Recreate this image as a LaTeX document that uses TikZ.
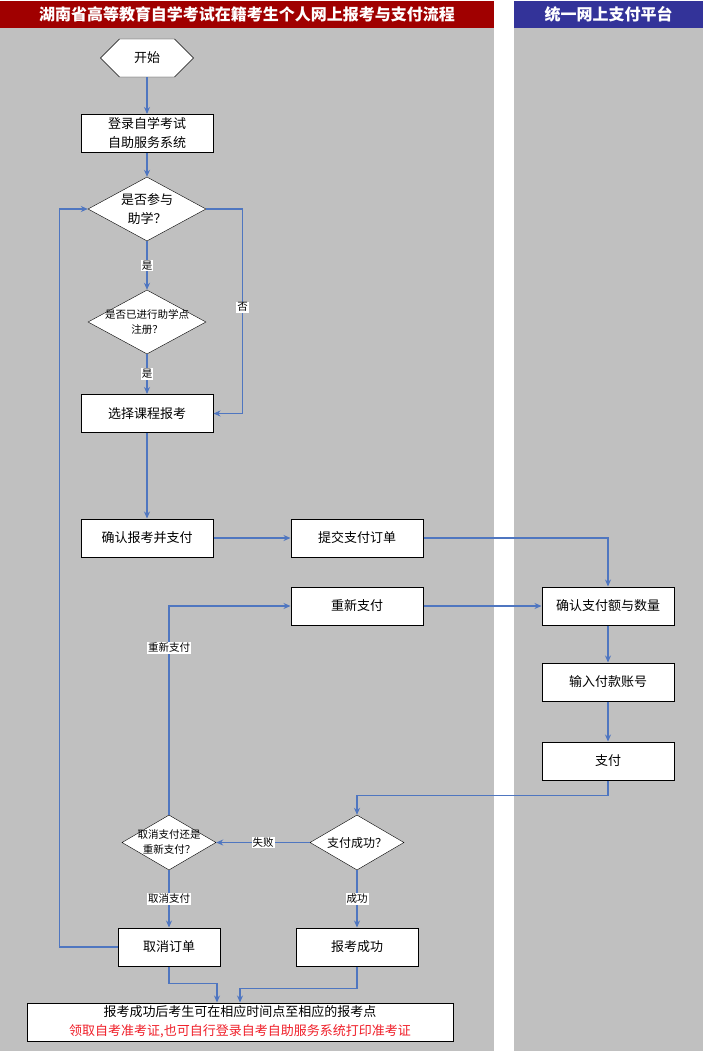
\documentclass[tikz,border=0pt]{standalone}
\usepackage{fontspec}
\setmainfont{Noto Sans CJK SC}
\usetikzlibrary{shapes.geometric,shapes.misc,arrows.meta}
\definecolor{laneGray}{HTML}{C0C0C0}
\definecolor{headRed}{HTML}{A00000}
\definecolor{headBlue}{HTML}{333399}
\definecolor{flowBlue}{HTML}{4F76C0}
\definecolor{noteRed}{HTML}{F0202A}

\begin{document}
\begin{tikzpicture}[x=1pt, y=-1pt,
    every node/.style={font=\fontsize{13}{19}\selectfont},
    process/.style={draw, line width=1pt, fill=white, minimum width=132pt,
      minimum height=38pt, inner sep=0pt, align=center},
    startstop/.style={chamfered rectangle, chamfered rectangle xsep=16pt,
      chamfered rectangle ysep=18pt, draw, fill=white, minimum width=93pt,
      minimum height=36pt, inner sep=0pt},
    decision/.style={diamond, draw, fill=white, minimum width=118pt,
      minimum height=64pt, inner sep=0pt},
    dtext/.style={align=center, inner sep=0pt},
    small/.style={font=\fontsize{10.5}{15}\selectfont},
    tag/.style={fill=white, inner sep=1pt, font=\fontsize{10.5}{12}\selectfont},
    flow/.style={draw=flowBlue, line width=1.1pt, -{Stealth[length=7pt,width=6pt]}}]
    \useasboundingbox (0,0) rectangle (703,1053);
    % swim lanes
    \fill[laneGray] (0,28) rectangle (494,1051);
    \fill[laneGray] (514,28) rectangle (703,1051);
    \fill[headRed] (0,1) rectangle (494,28);
    \fill[headBlue] (514,1) rectangle (703,28);
    \node[text=white, font=\fontsize{16}{18}\selectfont\bfseries] (laneExam) at (247,14.5)
      {湖南省高等教育自学考试在籍考生个人网上报考与支付流程};
    \node[text=white, font=\fontsize{16}{18}\selectfont\bfseries] (lanePay) at (608.5,14.5)
      {统一网上支付平台};

    % left lane
    \node[startstop] (start) at (147,58) {开始};
    \node[process] (login) at (147,133.5) {登录自学考试\\自助服务系统};
    \node[decision, label={[dtext]center:是否参与\\助学？}] (joinq) at (147,209) {};
    \node[decision, label={[dtext,small]center:是否已进行助学点\\注册？}] (regq) at (147,322) {};
    \node[process] (choose) at (147,413.5) {选择课程报考};
    \node[process] (confirm) at (147,538) {确认报考并支付};
    \node[process] (submit) at (357,538) {提交支付订单};
    \node[process] (rePay) at (357,606) {重新支付};
    \node[decision, minimum width=94pt, minimum height=55pt,
      label={[dtext,small]center:取消支付还是\\重新支付？}] (choice) at (169,842.5) {};
    \node[decision, minimum width=94pt, minimum height=55pt,
      label={[dtext,font=\fontsize{12}{15}\selectfont]center:支付成功？}] (success) at (357,842.5) {};
    \node[process, minimum width=102pt] (cancel) at (169,947) {取消订单};
    \node[process, minimum width=122pt] (done) at (357,947) {报考成功};
    \node[process, minimum width=426pt] (final) at (240,1022)
      {报考成功后考生可在相应时间点至相应的报考点\\
       \textcolor{noteRed}{领取自考准考证,也可自行登录自考自助服务系统打印准考证}};

    % right lane
    \node[process] (amount) at (608,606) {确认支付额与数量};
    \node[process] (account) at (608,682) {输入付款账号};
    \node[process] (pay) at (608,761) {支付};

    % connectors
    \draw[flow] (start) -- (login);
    \draw[flow] (login) -- (joinq);
    \draw[flow] (joinq) -- node[tag]{是} (regq);
    \draw[flow] (regq) -- node[tag]{是} (choose);
    \draw[flow] (joinq.east) -| node[tag, pos=0.74]{否} ([xshift=29pt]choose.east) -- (choose.east);
    \draw[flow] (choose) -- (confirm);
    \draw[flow] (confirm) -- (submit);
    \draw[flow] (submit.east) -| (amount.north);
    \draw[flow] (rePay) -- (amount);
    \draw[flow] (amount) -- (account);
    \draw[flow] (account) -- (pay);
    \draw[flow] (pay.south) -- ++(0,15) -| (success.north);
    \draw[flow] (success) -- node[tag]{失败} (choice);
    \draw[flow] (choice.north) |- node[tag, pos=0.4]{重新支付} (rePay.west);
    \draw[flow] (choice) -- node[tag]{取消支付} (cancel);
    \draw[flow] (success) -- node[tag]{成功} (done);
    \draw[flow] (cancel.west) -| ([xshift=-28pt]joinq.west) -- (joinq.west);
    \draw[flow] (cancel.south) -- ++(0,17) -| ([xshift=-23pt]final.north);
    \draw[flow] (done.south) -- ++(0,22) -| (final.north);
\end{tikzpicture}
\end{document}
